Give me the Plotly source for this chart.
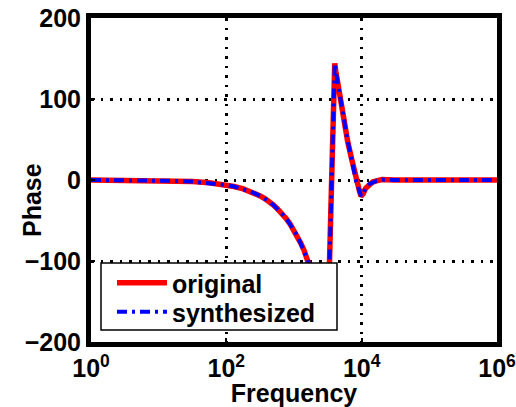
import plotly.graph_objects as go

# Data (frequency in Hz, phase in degrees)
freq = [1, 2, 3.16, 5.6, 10, 17.8, 31.6, 56, 100, 130, 178, 240, 316, 370, 420, 490, 562, 630, 700, 780, 870,
        1000, 1120, 1260, 1410, 1585, 1780, 2000, 2400, 2700, 2950, 3350, 3600, 3800, 4000, 4150, 4500,
        4900, 5500, 6200, 7100, 8300, 9300, 9800, 10500, 11500, 13000, 14500, 16500, 20000, 30000,
        100000, 1000000]
phase = [0, -0.1, -0.2, -0.35, -0.6, -1.1, -2, -3.5, -6.2, -8, -11, -15, -19.6, -23, -26, -30.5, -35, -39,
         -43.5, -48.5, -54, -62, -69, -78, -87, -98, -110, -124, -150, -168, -150, -100, 0, 100, 144, 134,
         116, 96, 70, 48, 26, -2, -14, -20, -17, -10, -5, -2.5, -1, 0.5, 0, 0, 0]

xtick_vals = [1, 100, 10000, 1000000]
xtick_text = ["10<sup>0</sup>", "10<sup>2</sup>", "10<sup>4</sup>", "10<sup>6</sup>"]
ytick_vals = [-200, -100, 0, 100, 200]
ytick_text = ["\u2212200", "\u2212100", "0", "100", "200"]

FONT = "Liberation Sans, Arial, sans-serif"
W, H = 516, 407
L, R, T, B = 91, 19, 18, 65
PW, PH = W - L - R, H - T - B


def px_x(p):
    return (p - L) / PW


def px_y(p):
    return (H - B - p) / PH


fig = go.Figure()
fig.add_trace(go.Scatter(x=freq, y=phase, mode="lines", name="original", legend="legend",
                         line=dict(color="#ff0000", width=5.5)))
fig.add_trace(go.Scatter(x=freq, y=phase, mode="lines", name="synthesized", legend="legend2",
                         line=dict(color="#0000ff", width=4, dash="10px,5px,3px,5px")))

# legend box (white fill over curves)
fig.add_shape(type="rect", xref="paper", yref="paper",
              x0=px_x(101), x1=px_x(337), y0=px_y(330), y1=px_y(263),
              fillcolor="white", line=dict(color="black", width=1.5), layer="above")

axis_common = dict(showline=True, linecolor="black", linewidth=5, mirror=True,
                   ticks="inside", ticklen=4, tickwidth=2, tickcolor="black",
                   showgrid=True, gridcolor="black", gridwidth=2.5, griddash="2.5px,7px",
                   zeroline=False, automargin=False, ticklabeloverflow="allow",
                   tickfont=dict(family=FONT, size=25, color="black", weight="bold"))

fig.update_xaxes(type="log", range=[0, 6], tickvals=xtick_vals, ticktext=xtick_text,
                 title=dict(text="Frequency", standoff=0,
                            font=dict(family=FONT, size=25, color="black", weight="bold")),
                 **axis_common)
fig.update_yaxes(range=[-200, 200], tickvals=ytick_vals, ticktext=ytick_text, **axis_common)

fig.add_annotation(text="<b>Phase</b>", xref="paper", yref="paper",
                   x=px_x(32), y=px_y(200), xanchor="center", yanchor="middle",
                   textangle=-90, showarrow=False,
                   font=dict(family=FONT, size=25, color="black"))

legend_common = dict(xanchor="left", yanchor="middle", bgcolor="rgba(0,0,0,0)", borderwidth=0,
                     font=dict(family=FONT, size=25, color="black", weight="bold"),
                     tracegroupgap=0, itemwidth=50)

fig.update_layout(
    width=W, height=H,
    margin=dict(l=L, r=R, t=T, b=B),
    paper_bgcolor="white", plot_bgcolor="white",
    showlegend=True,
    legend=dict(x=px_x(112), y=px_y(283), **legend_common),
    legend2=dict(x=px_x(112), y=px_y(312), **legend_common),
)

fig.write_html("out.html")
